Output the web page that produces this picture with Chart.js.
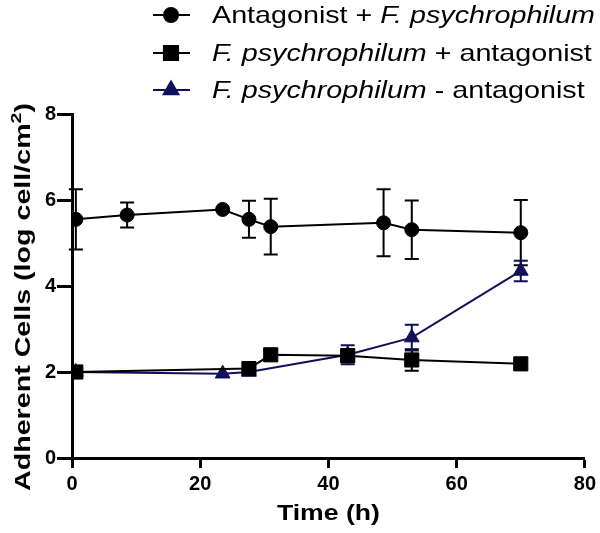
<!DOCTYPE html>
<html><head><meta charset="utf-8">
<script src="https://cdn.jsdelivr.net/npm/chart.js@4"></script>
<style>html,body{margin:0;padding:0;background:#fff}#wrap{width:600px;height:533px;position:relative}</style>
</head><body><div id="wrap"><canvas id="c"></canvas></div>
<script>
// Antagonist + F. psychrophilum (circles)
const timesA = [0.6, 8.6, 23.5, 27.6, 31, 48.6, 53, 70];
const valuesA = [5.55, 5.65, 5.78, 5.55, 5.38, 5.47, 5.31, 5.24];
const errorsA = [0.7, 0.29, 0, 0.43, 0.65, 0.78, 0.68, 0.76];
// F. psychrophilum + antagonist (squares)
const timesB = [0.6, 27.6, 31, 43, 53, 70];
const valuesB = [2.0, 2.08, 2.4, 2.38, 2.28, 2.19];
const errorsB = [0, 0, 0, 0.15, 0.25, 0];
// F. psychrophilum - antagonist (triangles)
const timesC = [0.6, 23.5, 27.6, 43, 53, 70];
const valuesC = [2.0, 1.96, 2.0, 2.4, 2.8, 4.35];
const errorsC = [0, 0, 0, 0.22, 0.3, 0.24];

const xTicks = [0, 20, 40, 60, 80];
const yTicks = [0, 2, 4, 6, 8];
const legendLabels = [
  [['Antagonist + ', false], ['F. psychrophilum', true]],
  [['F. psychrophilum', true], [' + antagonist', false]],
  [['F. psychrophilum', true], [' - antagonist', false]]
];
const xTitle = 'Time (h)';
const yTitleMain = 'Adherent Cells (log cell/cm';
const yTitleSup = '2';
const yTitleEnd = ')';

const FONT = '"Liberation Sans", Arial, Helvetica, sans-serif';
const NAVY = '#0f0f5a';

function pts(xs, ys) { return xs.map((x, i) => ({x: x, y: ys[i]})); }

const errorPlugin = {
  id: 'errbars',
  beforeDatasetsDraw(chart) {
    const ctx = chart.ctx, xs = chart.scales.x, ys = chart.scales.y;
    chart.data.datasets.forEach(ds => {
      const errs = ds.errors;
      if (!errs) return;
      ctx.save();
      ctx.strokeStyle = ds.borderColor;
      ctx.lineWidth = 2;
      ds.data.forEach((p, i) => {
        const e = errs[i];
        if (!e) return;
        const px = xs.getPixelForValue(p.x);
        const top = ys.getPixelForValue(p.y + e);
        const bot = ys.getPixelForValue(p.y - e);
        ctx.beginPath();
        ctx.moveTo(px, top); ctx.lineTo(px, bot);
        ctx.moveTo(px - 7, top); ctx.lineTo(px + 7, top);
        ctx.moveTo(px - 7, bot); ctx.lineTo(px + 7, bot);
        ctx.stroke();
      });
      ctx.restore();
    });
  }
};

function segWidth(ctx, segs, size) {
  let w = 0;
  segs.forEach(([t, it]) => { ctx.font = (it ? 'italic ' : '') + size + 'px ' + FONT; w += ctx.measureText(t).width; });
  return w;
}

const textPlugin = {
  id: 'texts',
  afterDraw(chart) {
    const ctx = chart.ctx;
    ctx.save();
    // Legend
    const rows = [15, 53, 90];
    const LS = 24;
    const sx = 383 / segWidth(ctx, legendLabels[0], LS);
    chart.data.datasets.forEach((ds, i) => {
      const y = rows[i];
      ctx.strokeStyle = ds.borderColor;
      ctx.lineWidth = 2;
      ctx.beginPath(); ctx.moveTo(153, y); ctx.lineTo(190, y); ctx.stroke();
      Chart.helpers.drawPoint(ctx, {pointStyle: ds.pointStyle, radius: ds.pointRadius, borderWidth: 1}, 171, y);
      ctx.fillStyle = ds.borderColor;
      ctx.fill();
      ctx.save();
      ctx.translate(212, y + 1);
      ctx.scale(sx, 1);
      let x = 0;
      ctx.fillStyle = '#000';
      ctx.textBaseline = 'middle';
      ctx.textAlign = 'left';
      legendLabels[i].forEach(([t, it]) => {
        ctx.font = (it ? 'italic ' : '') + LS + 'px ' + FONT;
        ctx.fillText(t, x, 0);
        x += ctx.measureText(t).width;
      });
      ctx.restore();
    });
    // X title
    ctx.save();
    ctx.fillStyle = '#000';
    ctx.font = 'bold 22px ' + FONT;
    ctx.textAlign = 'center';
    ctx.textBaseline = 'alphabetic';
    const ca = chart.chartArea;
    const xsx = 103 / ctx.measureText(xTitle).width;
    ctx.translate((ca.left + ca.right) / 2, 520);
    ctx.scale(xsx, 1);
    ctx.fillText(xTitle, 0, 0);
    ctx.restore();
    // Y title
    ctx.save();
    ctx.fillStyle = '#000';
    ctx.translate(30, 297);
    ctx.rotate(-Math.PI / 2);
    ctx.textAlign = 'left';
    ctx.textBaseline = 'alphabetic';
    const fMain = 'bold 22px ' + FONT, fSup = 'bold 15px ' + FONT;
    ctx.font = fMain; const w1 = ctx.measureText(yTitleMain).width; const w3 = ctx.measureText(yTitleEnd).width;
    ctx.font = fSup; const w2 = ctx.measureText(yTitleSup).width;
    const tot = w1 + w2 + w3;
    ctx.scale(388 / tot, 1);
    let x0 = -tot / 2;
    ctx.font = fMain; ctx.fillText(yTitleMain, x0, 0); x0 += w1;
    ctx.font = fSup; ctx.fillText(yTitleSup, x0, -9); x0 += w2;
    ctx.font = fMain; ctx.fillText(yTitleEnd, x0, 0);
    ctx.restore();
    ctx.restore();
  }
};

new Chart(document.getElementById('c'), {
  type: 'line',
  data: {
    datasets: [
      {label: 'Antagonist + F. psychrophilum', data: pts(timesA, valuesA), errors: errorsA, borderColor: '#000', backgroundColor: '#000',
       pointStyle: 'circle', pointRadius: 7, borderWidth: 2, pointBorderWidth: 1},
      {label: 'F. psychrophilum + antagonist', data: pts(timesB, valuesB), errors: errorsB, borderColor: '#000', backgroundColor: '#000',
       pointStyle: 'rect', pointRadius: 10, borderWidth: 2, pointBorderWidth: 1},
      {label: 'F. psychrophilum - antagonist', data: pts(timesC, valuesC), errors: errorsC, borderColor: NAVY, backgroundColor: NAVY,
       pointStyle: 'triangle', pointRadius: 8.5, borderWidth: 2, pointBorderWidth: 1}
    ]
  },
  options: {
    responsive: true, maintainAspectRatio: false, animation: false, events: [],
    layout: {padding: {top: 114, right: 15, left: 0, bottom: 0}},
    plugins: {legend: {display: false}, tooltip: {enabled: false}},
    elements: {line: {tension: 0}},
    scales: {
      x: {
        type: 'linear', min: 0, max: 80,
        afterBuildTicks(s) { s.ticks = xTicks.map(v => ({value: v})); },
        afterFit(s) { s.height = 75; },
        ticks: {font: {family: FONT, size: 20, weight: 'bold'}, color: '#000', padding: 4},
        grid: {drawOnChartArea: false, drawTicks: true, tickLength: 10, tickWidth: 3, tickColor: '#000'},
        border: {display: true, color: '#000', width: 3}
      },
      y: {
        min: 0, max: 8,
        afterBuildTicks(s) { s.ticks = yTicks.map(v => ({value: v})); },
        afterFit(s) { s.width = 72; },
        ticks: {font: {family: FONT, size: 20, weight: 'bold'}, color: '#000', padding: 1},
        grid: {drawOnChartArea: false, drawTicks: true, tickLength: 15, tickWidth: 3, tickColor: '#000'},
        border: {display: true, color: '#000', width: 3}
      }
    }
  },
  plugins: [errorPlugin, textPlugin]
});
</script></body></html>
